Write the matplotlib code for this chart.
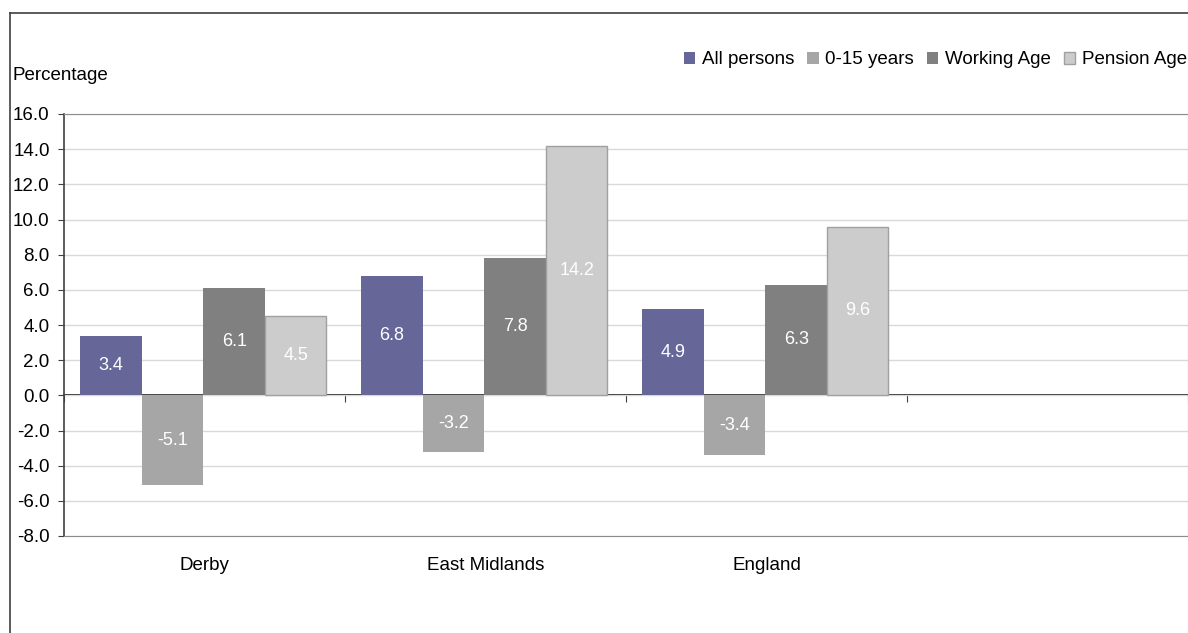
import numpy as np
import matplotlib
matplotlib.use('Agg')
import matplotlib.pyplot as plt
from matplotlib.lines import Line2D

plt.rcParams['font.family'] = ['Liberation Sans', 'DejaVu Sans']
plt.rcParams['font.size'] = 13.5

# population change by age group, percent
areas = ['Derby', 'East Midlands', 'England', '']
series_names = ['All persons', '0-15 years', 'Working Age', 'Pension Age']
all_persons = [3.4, 6.8, 4.9]
age_0_15 = [-5.1, -3.2, -3.4]
working_age = [6.1, 7.8, 6.3]
pension_age = [4.5, 14.2, 9.6]
yticks = np.arange(-8, 17, 2)

series = [all_persons, age_0_15, working_age, pension_age]
colors = ['#666699', '#a6a6a6', '#808080', '#cccccc']
edges = ['none', 'none', 'none', '#a0a0a0']

fig = plt.figure(figsize=(11.88, 6.33), dpi=100)
W, H = 1188, 633
ax = fig.add_axes([64 / W, 1 - 536 / H, 1 - 64 / W, (536 - 114) / H])

width = 0.219
x = np.arange(len(all_persons))
for i, (vals, name) in enumerate(zip(series, series_names)):
    offs = (i - 1.5) * width - 0.004
    bars = ax.bar(x + offs, vals, width, color=colors[i], edgecolor=edges[i],
                  linewidth=1 if edges[i] != 'none' else 0, label=name, zorder=3)
    for b, v in zip(bars, vals):
        ax.text(b.get_x() + b.get_width() / 2, v / 2, '%.1f' % v,
                ha='center', va='center', color='white', fontsize=13, zorder=4)

ax.set_xlim(-0.5, 3.5)
ax.set_ylim(-8, 16)
ax.set_yticks(yticks)
ax.set_yticklabels(['%.1f' % t for t in yticks])
ax.yaxis.grid(True, color='#d9d9d9', linewidth=1)
ax.set_axisbelow(True)
ax.tick_params(axis='y', direction='out', length=4.3, color='#404040', pad=6,
               labelsize=13.5)

# category names sit below the plot area
ax.set_xticks(np.arange(len(areas)))
ax.set_xticklabels(areas)
ax.tick_params(axis='x', length=0, pad=15, labelsize=13.5)

for side in ['top', 'bottom', 'right']:
    ax.spines[side].set_color('#8c8c8c')
ax.spines['left'].set_color('#404040')
ax.spines['left'].set_linewidth(1.2)

# zero line with category separators
zero_ax = ax.secondary_xaxis(8 / 24)
zero_ax.set_xticks(np.arange(len(areas) + 1) - 0.5)
zero_ax.set_xticklabels([])
zero_ax.tick_params(direction='out', length=5, color='#404040')
zero_ax.spines['bottom'].set_color('black')
zero_ax.spines['bottom'].set_linewidth(1.2)

fig.text(13 / W, 1 - 76 / H, 'Percentage', ha='left', va='center', fontsize=13.5)

fig.legend(loc='center right', bbox_to_anchor=(0.999, 1 - 60 / H), ncol=4,
           frameon=False, handlelength=0.6, handleheight=0.6,
           handletextpad=0.35, columnspacing=0.7, fontsize=13.5,
           borderaxespad=0, borderpad=0)

# outer chart frame
fig.add_artist(Line2D([10 / W, 10 / W], [0, 1 - 13 / H], color='#404040',
                      linewidth=1.2, transform=fig.transFigure))
fig.add_artist(Line2D([10 / W, 1], [1 - 13 / H, 1 - 13 / H], color='#404040',
                      linewidth=1.2, transform=fig.transFigure))

fig.savefig('out.png', dpi=100)
